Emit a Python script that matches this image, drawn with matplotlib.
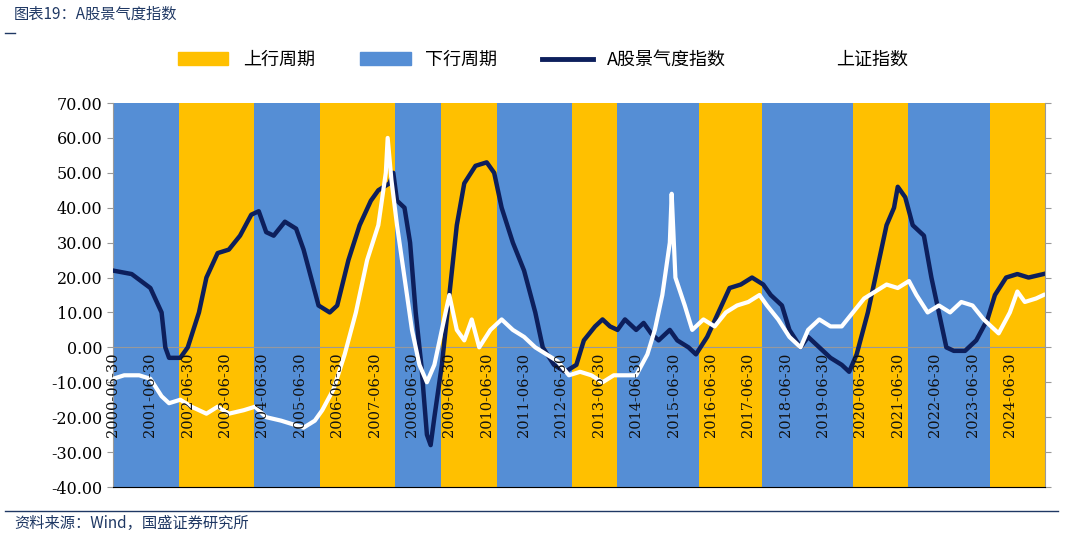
import matplotlib
matplotlib.use("Agg")
import matplotlib.pyplot as plt
from matplotlib.patches import Patch
from matplotlib.lines import Line2D

plt.rcParams['font.family'] = ['Noto Sans CJK SC', 'DejaVu Sans']

band_edges = [2000.5, 2002.27, 2004.27, 2006.04, 2008.05, 2009.28, 2010.78, 2012.78,
              2014.0, 2016.18, 2017.87, 2020.3, 2021.77, 2023.97, 2025.44]
band_types = ['down', 'up', 'down', 'up', 'down', 'up', 'down', 'up', 'down', 'up',
              'down', 'up', 'down', 'up']

idx_t = [2000.5, 2001.0, 2001.5, 2001.8, 2001.9, 2002.0, 2002.3, 2002.5, 2002.8, 2003.0, 2003.3,
         2003.6, 2003.9, 2004.2, 2004.4, 2004.6, 2004.8, 2005.1, 2005.4, 2005.6, 2005.8, 2006.0,
         2006.3, 2006.5, 2006.8, 2007.1, 2007.4, 2007.6, 2007.9, 2008.0, 2008.1, 2008.3, 2008.45,
         2008.6, 2008.75, 2008.9, 2009.0, 2009.1, 2009.3, 2009.5, 2009.7, 2009.9, 2010.2, 2010.5,
         2010.7, 2010.9, 2011.2, 2011.5, 2011.8, 2012.0, 2012.3, 2012.6, 2012.9, 2013.1, 2013.4,
         2013.6, 2013.8, 2014.0, 2014.2, 2014.5, 2014.7, 2014.9, 2015.1, 2015.4, 2015.6, 2015.9,
         2016.1, 2016.4, 2016.7, 2017.0, 2017.3, 2017.6, 2017.9, 2018.1, 2018.4, 2018.6, 2018.9,
         2019.1, 2019.4, 2019.7, 2020.0, 2020.2, 2020.4, 2020.7, 2021.0, 2021.2, 2021.4, 2021.5,
         2021.7, 2021.9, 2022.2, 2022.4, 2022.6, 2022.8, 2023.0, 2023.3, 2023.6, 2023.9, 2024.1,
         2024.4, 2024.7, 2025.0, 2025.4]
idx_v = [22, 21, 17, 10, 0, -3, -3, 0, 10, 20, 27, 28, 32, 38, 39, 33, 32, 36, 34, 28, 20, 12,
         10, 12, 25, 35, 42, 45, 47, 50, 42, 40, 30, 10, -5, -25, -28, -20, -5, 15, 35, 47, 52, 53,
         50, 40, 30, 22, 10, 0, -5, -7, -5, 2, 6, 8, 6, 5, 8, 5, 7, 4, 2, 5, 2, 0, -2, 3, 10, 17,
         18, 20, 18, 15, 12, 5, 0, 3, 0, -3, -5, -7, -2, 10, 25, 35, 40, 46, 43, 35, 32, 20, 10, 0,
         -1, -1, 2, 8, 15, 20, 21, 20, 21]

sh_t = [2000.5, 2000.8, 2001.2, 2001.5, 2001.8, 2002.0, 2002.3, 2002.6, 2003.0, 2003.3, 2003.6,
        2004.0, 2004.3, 2004.6, 2005.0, 2005.3, 2005.6, 2005.9, 2006.1, 2006.4, 2006.7, 2007.0,
        2007.3, 2007.6, 2007.8, 2007.85, 2007.95, 2008.1, 2008.3, 2008.5, 2008.7, 2008.9, 2009.1,
        2009.3, 2009.5, 2009.7, 2009.9, 2010.1, 2010.3, 2010.6, 2010.9, 2011.2, 2011.5, 2011.8,
        2012.1, 2012.4, 2012.7, 2013.0, 2013.3, 2013.6, 2013.9, 2014.2, 2014.5, 2014.8, 2015.0,
        2015.2, 2015.4, 2015.45, 2015.55, 2015.8, 2016.0, 2016.3, 2016.6, 2016.9, 2017.2, 2017.5,
        2017.8, 2018.0, 2018.3, 2018.6, 2018.9, 2019.1, 2019.4, 2019.7, 2020.0, 2020.3, 2020.6,
        2020.9, 2021.2, 2021.5, 2021.8, 2022.0, 2022.3, 2022.6, 2022.9, 2023.2, 2023.5, 2023.8,
        2024.0, 2024.2, 2024.5, 2024.7, 2024.9, 2025.2, 2025.4]
sh_v = [-9, -8, -8, -9, -14, -16, -15, -17, -19, -17, -19, -18, -17, -20, -21, -22, -23, -21, -18,
        -12, -2, 10, 25, 35, 50, 60, 48, 35, 20, 5, -5, -10, -5, 5, 15, 5, 2, 8, 0, 5, 8, 5, 3, 0,
        -2, -4, -8, -7, -8, -10, -8, -8, -8, -2, 5, 15, 30, 44, 20, 12, 5, 8, 6, 10, 12, 13, 15,
        12, 8, 3, 0, 5, 8, 6, 6, 10, 14, 16, 18, 17, 19, 15, 10, 12, 10, 13, 12, 8, 6, 4, 10, 16,
        13, 14, 15]

tick_labels = [f"{y}-06-30" for y in range(2000, 2025)]
tick_pos = [y + 0.5 for y in range(2000, 2025)]
yticks = list(range(-40, 71, 10))

YEL, BLU, NAVY = '#FFC000', '#558ED5', '#0D1F5C'

fig = plt.figure(figsize=(10.65, 5.36), dpi=100)
ax = fig.add_axes([113/1065, 1-487/536, (1045-113)/1065, (487-103)/536])
for i, kind in enumerate(band_types):
    ax.axvspan(band_edges[i], band_edges[i+1], color=YEL if kind == 'up' else BLU, lw=0)
ax.plot(idx_t, idx_v, color=NAVY, lw=3.2, zorder=3)
ax.plot(sh_t, sh_v, color='white', lw=3.0, zorder=4)
ax.axhline(0, color='#999999', lw=0.8, zorder=2)
ax.set_xlim(band_edges[0], band_edges[-1])
ax.set_ylim(-40, 70)
ax.set_yticks(yticks)
ax.set_yticklabels([f"{v:.2f}" for v in yticks], family='DejaVu Serif', fontsize=11.5)
ax.set_xticks([])
for p, lab in zip(tick_pos, tick_labels):
    ax.text(p, -1.5, lab, rotation=90, ha='center', va='top', family='DejaVu Serif',
            fontsize=10.5, color='#111111', zorder=5)
ax.tick_params(axis='y', length=4, color='#999999')
for s in ['top', 'right']:
    ax.spines[s].set_visible(False)
ax.spines['left'].set_color('#999999')
ax.spines['bottom'].set_color('#999999')
ax2 = ax.twinx()
ax2.set_ylim(-40, 70)
ax2.set_yticks(yticks)
ax2.set_yticklabels([])
ax2.tick_params(axis='y', length=4, color='#999999')
for s in ['top', 'left']:
    ax2.spines[s].set_visible(False)
ax2.spines['right'].set_color('#999999')

handles = [Patch(color=YEL), Patch(color=BLU), Line2D([], [], color=NAVY, lw=3.5),
           Line2D([], [], color='white', lw=3.5)]
labels = ['上行周期', '下行周期', 'A股景气度指数', '上证指数']
fig.legend(handles, labels, loc='center', bbox_to_anchor=(0.51, 1-60/536), ncol=4,
           frameon=False, fontsize=13, handlelength=2.8, columnspacing=2.5)

fig.text(14/1065, 1-14/536, '图表19：A股景气度指数', fontsize=11, color='#1F3864',
         style='italic', va='center')
fig.add_artist(Line2D([5/1065, 15/1065], [1-33/536]*2, color='#1F3864', lw=1))
fig.add_artist(Line2D([5/1065, 1058/1065], [1-511/536]*2, color='#1F3864', lw=1))
fig.text(14/1065, 1-523/536, '资料来源：Wind，国盛证券研究所', fontsize=11, color='#1F3864',
         style='italic', va='center')

fig.savefig('out.png', dpi=100)
